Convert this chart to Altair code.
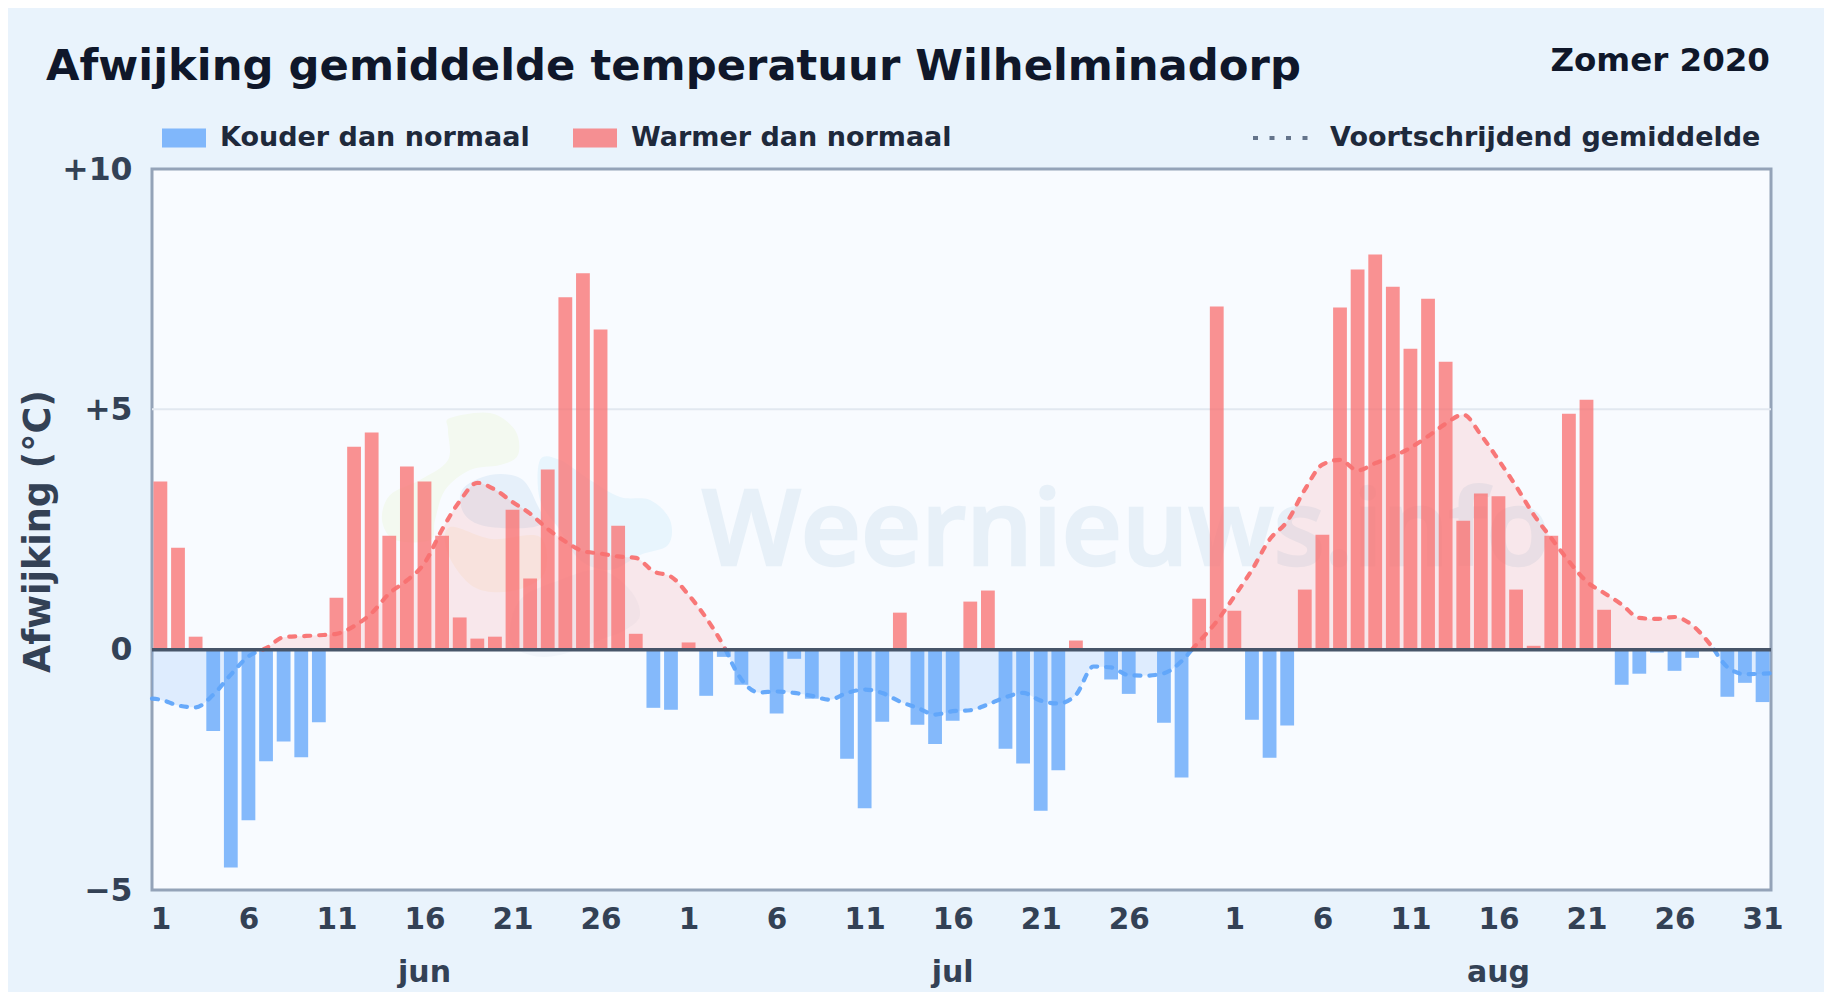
import altair as alt
import pandas as pd

FONT = "DejaVu Sans"
TITLE = "Afwijking gemiddelde temperatuur Wilhelminadorp"
SUBTITLE = "Zomer 2020"
Y_TITLE = "Afwijking (°C)"
COLD = "Kouder dan normaal"
WARM = "Warmer dan normaal"
AVG = "Voortschrijdend gemiddelde"
WATERMARK = "Weernieuws.info"

jun = [3.50, 2.12, 0.27, -1.69, -4.53, -3.55, -2.32, -1.91, -2.24, -1.51,
       1.08, 4.22, 4.52, 2.37, 3.81, 3.50, 2.37, 0.67, 0.23, 0.27,
       2.91, 1.48, 3.75, 7.33, 7.83, 6.66, 2.58, 0.33, -1.21, -1.25]
jul = [0.15, -0.96, -0.15, -0.73, 0.0, -1.33, -0.19, -1.02, 0.0, -2.27,
       -3.30, -1.50, 0.77, -1.56, -1.96, -1.48, 1.00, 1.23, -2.06, -2.37,
       -3.35, -2.51, 0.19, 0.03, -0.62, -0.92, 0.0, -1.52, -2.66, 1.06, 7.14]
aug = [0.81, -1.46, -2.25, -1.58, 1.25, 2.39, 7.12, 7.91, 8.22, 7.55,
       6.26, 7.30, 5.99, 2.68, 3.25, 3.19, 1.25, 0.08, 2.37, 4.91,
       5.20, 0.83, -0.73, -0.50, -0.06, -0.44, -0.17, 0.0, -0.98, -0.69, -1.09]
moving_avg = [-1.04, -1.16, -1.20, -0.94, -0.52, -0.14, 0.03, 0.26, 0.28, 0.30,
              0.33, 0.49, 0.76, 1.17, 1.44, 1.80, 2.50, 3.09, 3.47, 3.33,
              3.07, 2.83, 2.51, 2.25, 2.05, 2.00, 1.94, 1.91, 1.63, 1.52,
              1.14, 0.66, 0.07, -0.62, -0.89, -0.87, -0.90, -0.96, -1.04, -0.90,
              -0.83, -0.90, -1.08, -1.21, -1.35, -1.28, -1.26, -1.14, -0.99, -0.90,
              -1.06, -1.12, -0.94, -0.35, -0.37, -0.53, -0.54, -0.49, -0.24, 0.17,
              0.59, 1.11, 1.66, 2.29, 2.67, 3.33, 3.85, 3.95, 3.73, 3.88,
              4.02, 4.20, 4.44, 4.70, 4.89, 4.47, 3.95, 3.40, 2.81, 2.32,
              1.84, 1.42, 1.18, 0.94, 0.66, 0.64, 0.68, 0.51, 0.12, -0.36,
              -0.51, -0.50]
avg_at_left_edge = -1.02
avg_at_right_edge = -0.49

months = ["jun", "jul", "aug"]
month_label_day = [15, 45, 76]
tick_days = [0, 5, 10, 15, 20, 25, 30, 35, 40, 45, 50, 55,
             61, 66, 71, 76, 81, 86, 91]
tick_labels = ["1", "6", "11", "16", "21", "26", "1", "6", "11", "16", "21", "26",
               "1", "6", "11", "16", "21", "26", "31"]
x_domain = [-0.477, 91.48]
y_domain = [-5, 10]
y_ticks = [-5, 0, 5, 10]
grid_values = [5]

# Watermark logo outlines (pixels from the plot's top-left corner)
logo_green = [(298, 249), (338, 244), (363, 261), (366, 286), (348, 296), (318, 301), (293, 321),
              (283, 351), (278, 371), (243, 371), (230, 351), (238, 326), (268, 311), (296, 291), (296, 261)]
logo_orange = [(298, 358), (340, 370), (388, 368), (392, 405), (360, 422), (322, 418), (296, 385)]
logo_pale = [(388, 291), (408, 291), (438, 311), (468, 328), (498, 331), (518, 351), (516, 376),
             (488, 386), (458, 401), (428, 391), (408, 361), (388, 331)]
logo_grey = [(448, 401), (478, 421), (488, 446), (473, 461), (448, 471), (408, 486), (378, 486),
             (358, 471), (368, 431), (408, 411)]
logo_blue = [(310, 321), (338, 306), (368, 309), (383, 331), (388, 356), (338, 358), (313, 346)]


def smooth_path(points):
    n = len(points)
    out = f"M{points[0][0]},{points[0][1]}"
    for i in range(n):
        p0, p1, p2, p3 = points[i - 1], points[i], points[(i + 1) % n], points[(i + 2) % n]
        c1 = (p1[0] + (p2[0] - p0[0]) / 6, p1[1] + (p2[1] - p0[1]) / 6)
        c2 = (p2[0] - (p3[0] - p1[0]) / 6, p2[1] - (p3[1] - p1[1]) / 6)
        out += f"C{c1[0]:.1f},{c1[1]:.1f},{c2[0]:.1f},{c2[1]:.1f},{p2[0]},{p2[1]}"
    return out + "Z"


values = jun + jul + aug
bars = pd.DataFrame({
    "day": range(len(values)),
    "v": values,
    "kind": [WARM if v > 0 else COLD for v in values],
})

# Split the moving average at its zero crossings so each side has its own colour
days = [x_domain[0]] + list(range(len(moving_avg))) + [x_domain[1]]
avg_values = [avg_at_left_edge] + moving_avg + [avg_at_right_edge]
rows, seg, prev, prev_day = [], 0, None, None
for d, v in zip(days, avg_values):
    if prev is not None and (v >= 0) != (prev >= 0):
        xc = prev_day + (d - prev_day) * prev / (prev - v)
        rows.append({"day": xc, "v": 0.0, "seg": seg, "warm": prev >= 0})
        seg += 1
        rows.append({"day": xc, "v": 0.0, "seg": seg, "warm": v >= 0})
    rows.append({"day": d, "v": v, "seg": seg, "warm": v >= 0})
    prev, prev_day = v, d
avg = pd.DataFrame(rows)
avg_warm = avg[avg["warm"]]
avg_cold = avg[~avg["warm"]]

x_scale = alt.Scale(domain=x_domain, nice=False, zero=False, padding=0)
y_scale = alt.Scale(domain=y_domain, nice=False, padding=0)
X = alt.X("day:Q", scale=x_scale, title=None,
          axis=alt.Axis(values=tick_days,
                        labelExpr=f"{tick_labels}[indexof({tick_days}, datum.value)]",
                        labelFontSize=29.5, labelFontWeight="bold", labelColor="#334155", labelFont=FONT,
                        labelPadding=15, ticks=False, domain=False, grid=False, labelFlush=False,
                        labelOverlap=False))
Y = alt.Y("v:Q", scale=y_scale, stack=None, title=Y_TITLE,
          axis=alt.Axis(values=y_ticks,
                        labelExpr="datum.value > 0 ? '+' + datum.value : datum.value < 0 ? '\u2212' + abs(datum.value) : '0'",
                        labelFontSize=31.5, labelFontWeight="bold", labelColor="#334155", labelFont=FONT,
                        labelPadding=20, labelOffset=1, ticks=False, domain=False, grid=False,
                        titleFontSize=36.5, titleFontWeight="bold", titleColor="#334155",
                        titleFont=FONT, titleX=-95, titleY=362, labelOverlap=False))


def blob(points, colour):
    d = pd.DataFrame({"blob": [colour]})
    return alt.Chart(d).mark_point(shape=smooth_path(points), size=4, filled=True, fill=colour,
                                   opacity=1, strokeWidth=0).encode(x=alt.value(0), y=alt.value(0))


def label(text, x, y, size, colour, align="left", **kw):
    d = pd.DataFrame({"t": [text]})
    return alt.Chart(d).mark_text(font=kw.pop("font", FONT), fontSize=size, fontWeight=kw.pop("weight", "bold"),
                                  color=colour, align=align, baseline="alphabetic", **kw).encode(
        x=alt.value(x), y=alt.value(y), text="t:N")


logo = [blob(logo_green, "#f3f9f0"), blob(logo_orange, "#f8f5ef"), blob(logo_pale, "#e8f5fd"),
        blob(logo_grey, "#f1f5fb"), blob(logo_blue, "#e6f0fa")]
mark = label(WATERMARK, 550, 396, 104.5, "#2a7ab0", font="Open Sans", weight=600, opacity=0.08,
             stroke="#2a7ab0", strokeWidth=2.5)

grid = alt.Chart(pd.DataFrame({"v": grid_values})).mark_rule(color="#e2e8f0", strokeWidth=2).encode(y=Y)

area_w = alt.Chart(avg_warm).mark_area(interpolate="monotone", color="#f87171", opacity=0.14).encode(
    x=X, y=Y, detail="seg:N")
area_c = alt.Chart(avg_cold).mark_area(interpolate="monotone", color="#60a5fa", opacity=0.17).encode(
    x=X, y=Y, detail="seg:N")

bar = alt.Chart(bars).mark_bar(size=13.8, opacity=0.77).encode(
    x=X, y=Y,
    color=alt.Color("kind:N",
                    scale=alt.Scale(domain=[COLD, WARM], range=["#60a5fa", "#f87171"]),
                    legend=alt.Legend(title=None, orient="none", legendX=10, legendY=-53, direction="horizontal",
                                      symbolType="M-1,-0.43H1V0.43H-1Z", symbolSize=1936, symbolStrokeWidth=0,
                                      labelFontSize=27, labelFont=FONT, labelFontWeight="bold",
                                      labelColor="#1e293b", labelOffset=14, columnPadding=43,
                                      symbolOpacity=0.77, labelLimit=900)),
)

line_w = alt.Chart(avg_warm).mark_line(interpolate="monotone", color="#f87171", strokeWidth=4.2,
                                       strokeDash=[6, 9], strokeCap="round", opacity=0.95).encode(
    x=X, y=Y, detail="seg:N")
line_c = alt.Chart(avg_cold).mark_line(interpolate="monotone", color="#60a5fa", strokeWidth=4.2,
                                       strokeDash=[6, 9], strokeCap="round", opacity=0.95).encode(
    x=X, y=Y, detail="seg:N")

key = alt.Chart(pd.DataFrame({"day": [0], "v": [0], "name": [AVG]})).mark_line(
    color="#64748b", strokeWidth=4).encode(
    x=X, y=Y,
    strokeDash=alt.StrokeDash("name:N", scale=alt.Scale(domain=[AVG], range=[[5, 11.5]]),
                              legend=alt.Legend(title=None, orient="none", legendX=1099, legendY=-61,
                                                symbolType="stroke", symbolSize=3136, symbolStrokeColor="#64748b",
                                                symbolStrokeWidth=4, labelFontSize=27, labelFont=FONT,
                                                labelFontWeight="bold", labelColor="#1e293b", labelOffset=19,
                                                labelLimit=900)),
)

zero = alt.Chart(pd.DataFrame({"v": [0]})).mark_rule(color="#475569", strokeWidth=3.5).encode(y=Y)

months_df = pd.DataFrame({"day": month_label_day, "m": months})
month_text = alt.Chart(months_df).mark_text(font=FONT, fontSize=30, fontWeight="bold", color="#334155",
                                            baseline="alphabetic", align="center").encode(
    x=X, y=alt.value(813), text="m:N")

sub = label(SUBTITLE, 1618, -98, 32.5, "#0f172a", align="right")

chart = alt.layer(*logo, mark, grid, area_w, area_c, bar, line_w, line_c, key, zero, month_text, sub).properties(
    width=1619, height=721,
    title=alt.TitleParams(TITLE, anchor="start", frame="group", dx=-106, offset=0, dy=78, baseline="alphabetic",
                          fontSize=43.3, font=FONT, fontWeight="bold", color="#0f172a"),
    background="#e9f3fc",
    padding={"left": 144, "top": 161, "right": 53, "bottom": 102},
    autosize=alt.AutoSizeParams(type="none"),
).resolve_scale(color="independent").configure_view(fill="#f8fbff", stroke="#94a3b8", strokeWidth=3)

chart.save("out.html", embed_options={"renderer": "svg", "actions": False})
